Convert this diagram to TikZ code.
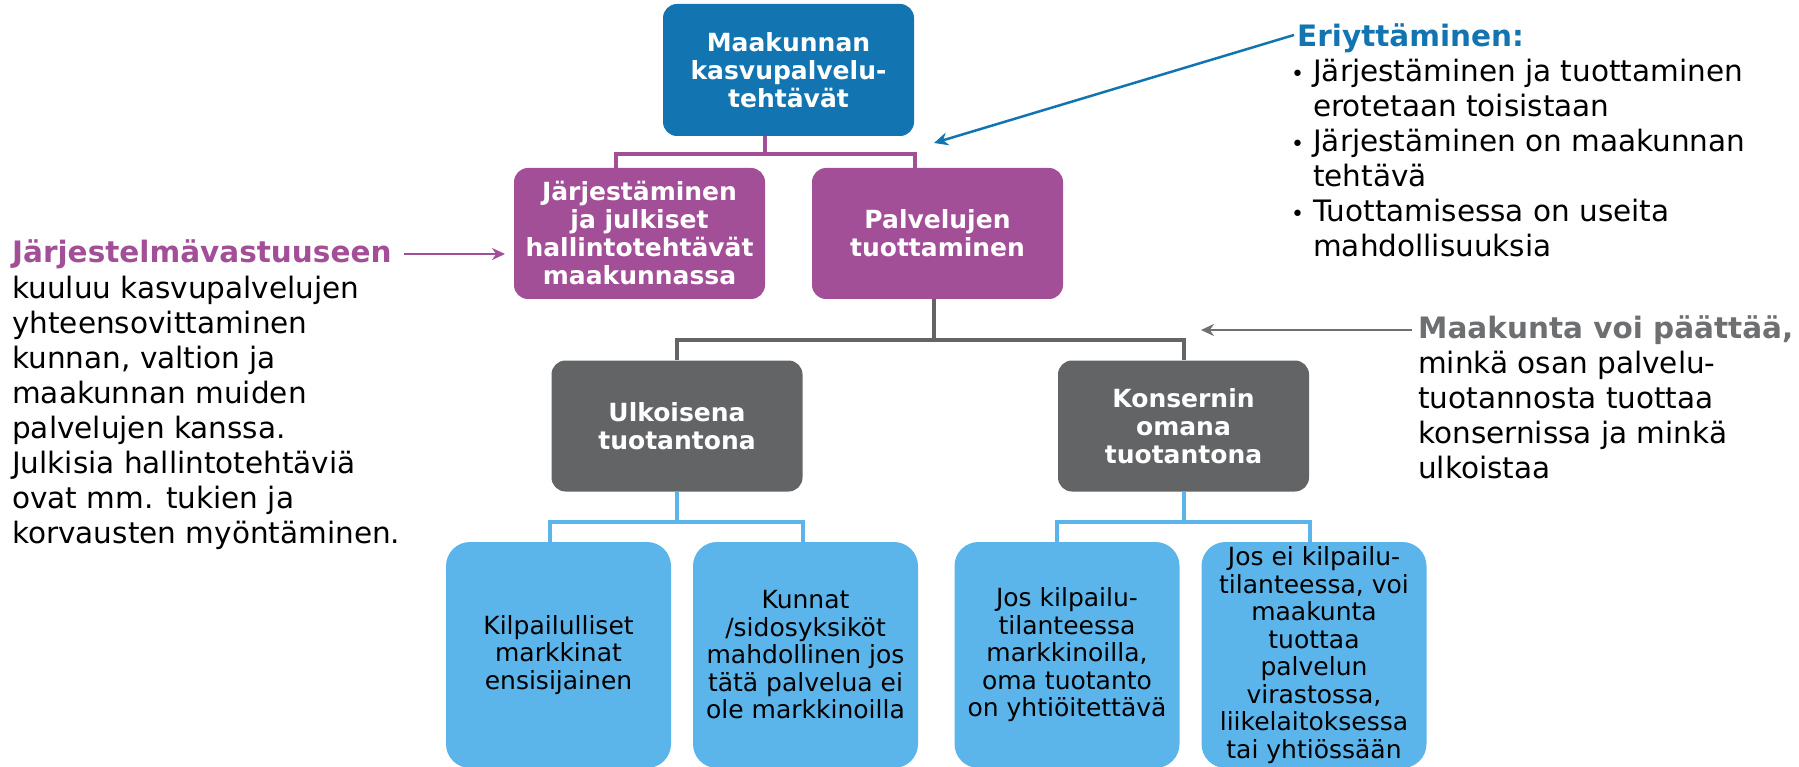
\documentclass[tikz,border=0pt]{standalone}
\usepackage{fontspec}
\setmainfont{DejaVu Sans}
\usetikzlibrary{arrows.meta}
\definecolor{topblue}{RGB}{18,117,177}
\definecolor{ppurple}{RGB}{162,79,151}
\definecolor{dgrey}{RGB}{99,100,102}
\definecolor{lblue}{RGB}{91,180,234}
\definecolor{tgrey}{RGB}{110,111,113}
\newcommand{\bul}{\makebox[22pt][l]{\fontsize{22}{35}\selectfont •}}
\newcommand{\ind}{\hspace*{22pt}}
\tikzset{
  box/.style={rounded corners=14pt, minimum width=251pt, minimum height=131pt, inner sep=0pt,
    align=center, text=white, font=\fontsize{25}{28}\selectfont\bfseries},
  topbox/.style={box, fill=topblue, minimum height=132pt},
  pbox/.style={box, fill=ppurple},
  gbox/.style={box, fill=dgrey},
  lbbox/.style={rounded corners=24pt, fill=lblue, minimum width=225pt, minimum height=226pt, inner sep=0pt,
    align=center, text=black, font=\fontsize{25}{27.5}\selectfont},
  pconn/.style={draw=ppurple, line width=4pt},
  gconn/.style={draw=dgrey, line width=4pt},
  bconn/.style={draw=lblue, line width=4pt},
  txt/.style={inner sep=0pt, align=left, font=\fontsize{29.5}{35}\selectfont},
}
\begin{document}
\begin{tikzpicture}[x=1pt,y=-1pt]
\useasboundingbox (0,0) rectangle (1799,767);
% boxes
\node[topbox] (top) at (788.5,70) {Maakunnan\\kasvupalvelu-\\tehtävät};
\node[pbox] (lbox) at (639.5,233.5) {Järjestäminen\\ja julkiset\\hallintotehtävät\\maakunnassa};
\node[pbox] (rbox) at (937.5,233.5) {Palvelujen\\tuottaminen};
\node[gbox] (ubox) at (677,426) {Ulkoisena\\tuotantona};
\node[gbox] (kbox) at (1183.5,426) {Konsernin\\omana\\tuotantona};
\node[lbbox] (b1) at (558.5,655) {Kilpailulliset\\markkinat\\ensisijainen};
\node[lbbox] (b2) at (805.5,655) {Kunnat\\/sidosyksiköt\\mahdollinen jos\\tätä palvelua ei\\ole markkinoilla};
\node[lbbox] (b3) at (1067,655) {Jos kilpailu-\\tilanteessa\\markkinoilla,\\oma tuotanto\\on yhtiöitettävä};
\node[lbbox] (b4) at (1314,655) {Jos ei kilpailu-\\tilanteessa, voi\\maakunta\\tuottaa\\palvelun\\virastossa,\\liikelaitoksessa\\tai yhtiössään};
% connector joints
\coordinate (pj) at (765,154);
\coordinate (pl) at (616,154);
\coordinate (pr) at (915,154);
\coordinate (gj) at (934,340);
\coordinate (bj1) at (677,522);
\coordinate (bl1) at (550,522);
\coordinate (br1) at (803,522);
\coordinate (bj2) at (1184,522);
\coordinate (bl2) at (1057,522);
\coordinate (br2) at (1310,522);
% connectors
\draw[pconn] (top.south -| pj) -- (pj);
\draw[pconn] (lbox.north -| pl) -- (pl) -- (pr) -- (rbox.north -| pr);
\draw[gconn] (rbox.south -| gj) -- (gj);
\draw[gconn] (ubox.north) |- (gj) -| (kbox.north);
\draw[bconn] (ubox.south) -- (bj1);
\draw[bconn] (b1.north -| bl1) -- (bl1) -- (br1) -- (b2.north -| br1);
\draw[bconn] (kbox.south -| bj2) -- (bj2);
\draw[bconn] (b3.north -| bl2) -- (bl2) -- (br2) -- (b4.north -| br2);
% left text (base anchor = baseline of last line)
\node[txt, anchor=base west, text=ppurple, font=\fontsize{29.5}{35}\selectfont\bfseries] (jar) at (12,263) {Järjestelmävastuuseen};
\node[txt, anchor=base west] (jarbody) at (12,543) {kuuluu kasvupalvelujen\\yhteensovittaminen\\kunnan, valtion ja\\maakunnan muiden\\palvelujen kanssa.\\Julkisia hallintotehtäviä\\ovat mm. tukien ja\\korvausten myöntäminen.};
\coordinate (ptip) at (505,254);
\draw[ppurple, line width=2.5pt, -{Stealth[length=13pt,width=12pt]}] (jar.base east) ++(12,-9) -- (ptip);
% right top text
\node[txt, anchor=base west, text=topblue, font=\fontsize{29.5}{35}\selectfont\bfseries] (eri) at (1297,47) {Eriyttäminen:};
\node[txt, anchor=base west] (eribody) at (1291,257) {\bul Järjestäminen ja tuottaminen\\\ind erotetaan toisistaan\\\bul Järjestäminen on maakunnan\\\ind tehtävä\\\bul Tuottamisessa on useita\\\ind mahdollisuuksia};
\coordinate (etip) at (934,143);
\draw[topblue, line width=2.5pt, -{Stealth[length=14pt,width=13pt]}] (eri.base west) ++(-3,-12) -- (etip);
% right bottom text
\node[txt, anchor=base west, text=tgrey, font=\fontsize{29.5}{35}\selectfont\bfseries] (maak) at (1418,338) {Maakunta voi päättää,};
\node[txt, anchor=base west] (maakbody) at (1418,478) {minkä osan palvelu-\\tuotannosta tuottaa\\konsernissa ja minkä\\ulkoistaa};
\coordinate (gtip) at (1201,330);
\draw[tgrey, line width=2.5pt, -{Stealth[length=13pt,width=12pt]}] (maak.base west) ++(-6,-8) -- (gtip);
\end{tikzpicture}
\end{document}
